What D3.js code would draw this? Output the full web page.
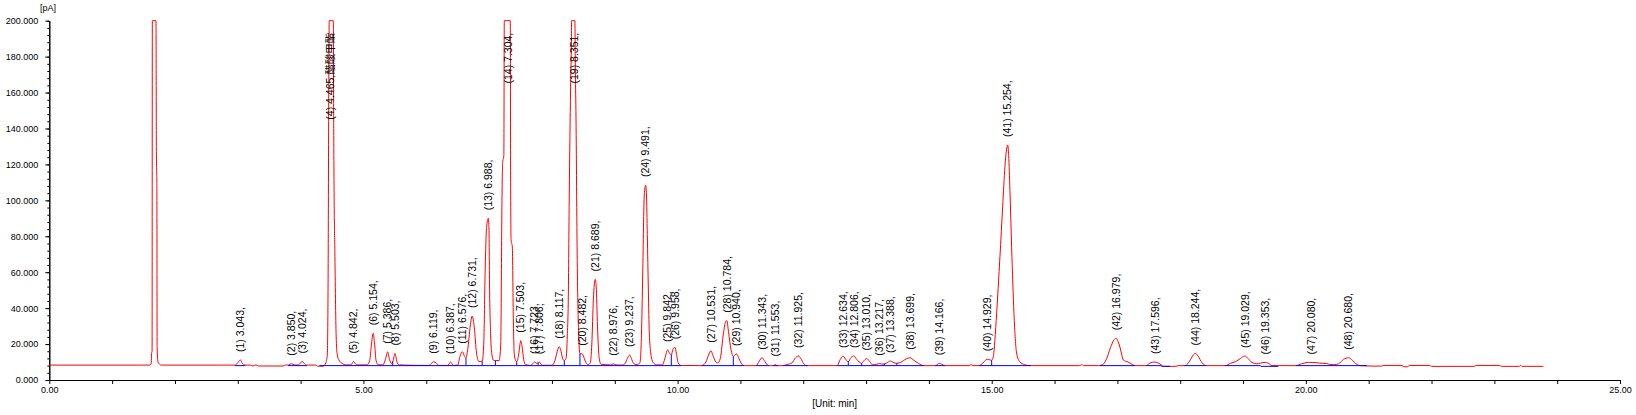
<!DOCTYPE html>
<html>
<head>
<meta charset="utf-8">
<script src="https://cdn.jsdelivr.net/npm/d3@7"></script>
<style>
	html, body { margin: 0; padding: 0; background: #fff; }
	#canvas { width: 1636px; height: 415px; }
	text { font-family: 'Liberation Sans', Arial, 'Noto Sans CJK SC', sans-serif; fill: #000; }
</style>
</head>
<body>
<div id="canvas"></div>
<script>
// signal trace: [time (min), signal (pA)]
const tracePoints = [
	[0.00, 8.3], [1.60, 8.3], [1.622, 9.0], [1.628, 15.0], [1.636, 16.0], [1.640, 200], [1.698, 200],
	[1.704, 130], [1.708, 117], [1.712, 110], [1.716, 18], [1.73, 10], [1.78, 8.3],
	[2.96, 8.3], [3.00, 9.6], [3.043, 11.1], [3.07, 9.4], [3.11, 8.3],
	[3.20, 8.3], [3.24, 7.8], [3.29, 8.4], [3.33, 7.8], [3.72, 7.8], [3.76, 8.3],
	[3.81, 8.4], [3.85, 9.1], [3.90, 8.4],
	[3.96, 8.3], [4.00, 9.6], [4.024, 10.3], [4.05, 9.5], [4.09, 8.3],
	[4.24, 8.3], [4.27, 7.7], [4.36, 7.7], [4.40, 9.5], [4.425, 14], [4.438, 60], [4.448, 160], [4.456, 200], [4.521, 200],
	[4.527, 140], [4.535, 95], [4.545, 72], [4.555, 45], [4.566, 24], [4.58, 15], [4.61, 11], [4.66, 9.3], [4.72, 8.4],
	[4.80, 8.4], [4.825, 9.5], [4.842, 10.3], [4.87, 9.1], [4.90, 8.4],
	[5.06, 8.4], [5.10, 11], [5.125, 19], [5.154, 26], [5.178, 20], [5.20, 11], [5.235, 8.5],
	[5.31, 8.4], [5.35, 11.5], [5.386, 15.7], [5.415, 11.5], [5.445, 9.2], [5.47, 10.5], [5.503, 14.8], [5.53, 10.5], [5.57, 8.4],
	[6.04, 8.1], [6.09, 9.5], [6.119, 10.2], [6.16, 9.4], [6.20, 8.1],
	[6.34, 8.1], [6.387, 10.0], [6.43, 8.1],
	[6.50, 8.3], [6.535, 13], [6.576, 15.7], [6.605, 13.5], [6.632, 12.3],
	[6.66, 17], [6.70, 30], [6.731, 35.6], [6.765, 29], [6.80, 15], [6.84, 10.2], [6.89, 10.5],
	[6.915, 20], [6.935, 57], [6.96, 85], [6.988, 90], [6.998, 84], [7.008, 50], [7.025, 25], [7.045, 14], [7.07, 11], [7.10, 10.8],
	[7.16, 10.8], [7.185, 20], [7.205, 100], [7.215, 121], [7.235, 125], [7.242, 200], [7.337, 200],
	[7.343, 110], [7.35, 78], [7.37, 74], [7.385, 36], [7.40, 15], [7.42, 11], [7.44, 10.2],
	[7.47, 14], [7.49, 19.5], [7.503, 21.9], [7.525, 18.5], [7.55, 11.5], [7.58, 8.6], [7.66, 8.1],
	[7.70, 9.3], [7.723, 10.0], [7.76, 9.3], [7.806, 9.9], [7.84, 8.2],
	[8.00, 8.2], [8.05, 11], [8.085, 16], [8.117, 18.5], [8.145, 16], [8.175, 11.5], [8.197, 10.9],
	[8.225, 12], [8.245, 25], [8.26, 44], [8.276, 103], [8.297, 162], [8.31, 190], [8.313, 200], [8.366, 200],
	[8.372, 175], [8.382, 150], [8.403, 66], [8.425, 26], [8.446, 14.5],
	[8.482, 14.6], [8.50, 13.5], [8.53, 10.5], [8.575, 8.6], [8.61, 9.5],
	[8.635, 20], [8.66, 45], [8.689, 56], [8.705, 52], [8.725, 30], [8.75, 13], [8.78, 8.8],
	[8.93, 8.4], [8.976, 9.0], [9.02, 8.4], [9.12, 8.3],
	[9.17, 9.5], [9.20, 12], [9.237, 13.9], [9.265, 12], [9.30, 9.2], [9.348, 8.6], [9.40, 9.5],
	[9.425, 25], [9.445, 59], [9.47, 103], [9.491, 108.5], [9.505, 103], [9.518, 81], [9.535, 50], [9.55, 26], [9.57, 16], [9.59, 11.5], [9.63, 9], [9.67, 8.4],
	[9.76, 8.4], [9.79, 11], [9.842, 16.7], [9.87, 15], [9.90, 13.9],
	[9.925, 17], [9.958, 18.2], [9.98, 15], [10.01, 9.5], [10.06, 8.1],
	[10.38, 8.0], [10.45, 10], [10.50, 14.5], [10.531, 16.3], [10.56, 14], [10.60, 10.5], [10.64, 9.5],
	[10.68, 12], [10.73, 26], [10.765, 32.5], [10.784, 33], [10.81, 27], [10.85, 17], [10.887, 13.1],
	[10.915, 14.0], [10.94, 14.5], [10.97, 12.5], [11.01, 9.5], [11.06, 8.0],
	[11.25, 8.0], [11.30, 10.5], [11.343, 12.4], [11.38, 10.8], [11.43, 8.4], [11.46, 8.0],
	[11.53, 8.0], [11.553, 8.6], [11.58, 8.0],
	[11.68, 8.0], [11.74, 8.6], [11.82, 9.5], [11.88, 12.5], [11.925, 13.4], [11.96, 12], [12.01, 9], [12.06, 8.0],
	[12.54, 8.0], [12.59, 11.5], [12.634, 13.4], [12.67, 11.8], [12.717, 10.2],
	[12.76, 12.5], [12.806, 13.4], [12.85, 11.5], [12.93, 9.3],
	[12.96, 10.5], [13.01, 11.9], [13.06, 10.2], [13.10, 8.5], [13.17, 8.8], [13.217, 9.1], [13.27, 8.8],
	[13.33, 9.5], [13.388, 10.6], [13.43, 9.8], [13.49, 9.3],
	[13.56, 10], [13.64, 11.8], [13.699, 12.4], [13.76, 11], [13.83, 9.3], [13.92, 8.0],
	[14.10, 8.0], [14.14, 8.8], [14.166, 9.3], [14.20, 8.8], [14.26, 8.0],
	[14.64, 8.0], [14.67, 8.6], [14.70, 8.0], [14.80, 8.0], [14.86, 9.5], [14.929, 11.6], [14.96, 11.3], [14.999, 11.0],
	[15.025, 12.9], [15.05, 22], [15.078, 37], [15.131, 68.6], [15.174, 96.5], [15.21, 118.7], [15.235, 128], [15.254, 130.8],
	[15.27, 125], [15.29, 105.7], [15.317, 74], [15.354, 37], [15.396, 15], [15.449, 10], [15.52, 8.6], [15.61, 8.0],
	[16.40, 8.0], [16.43, 8.5], [16.46, 8.0],
	[16.70, 8.0], [16.78, 9.0], [16.83, 12], [16.89, 18], [16.94, 22], [16.979, 23.2], [17.01, 21.5], [17.04, 18.4], [17.07, 14],
	[17.094, 11.1], [17.17, 10], [17.22, 9], [17.28, 8.0],
	[17.46, 8.0], [17.52, 9.5], [17.596, 10.0], [17.66, 9.3], [17.70, 8.4], [17.74, 7.6], [17.92, 7.6], [17.98, 8.0],
	[18.08, 8.0], [18.15, 10.5], [18.21, 14], [18.244, 14.8], [18.28, 13.5], [18.35, 9.5], [18.42, 8.0],
	[18.72, 8.0], [18.80, 9.3], [18.88, 10.2], [18.96, 12], [19.029, 13.4], [19.08, 12], [19.14, 9.8], [19.22, 9.0],
	[19.28, 9.4], [19.353, 9.8], [19.40, 9.4], [19.46, 8.0],
	[19.84, 8.0], [19.93, 9.0], [20.04, 9.8], [20.10, 9.8], [20.22, 9.4], [20.33, 9.2], [20.38, 8.6], [20.45, 8.5],
	[20.52, 9.0], [20.60, 11.5], [20.68, 12.4], [20.74, 11], [20.80, 9], [20.87, 8.0],
	[21.20, 7.7], [21.23, 8.1], [21.53, 8.1], [21.56, 7.4], [21.62, 7.4], [21.65, 8.1], [21.97, 8.1], [22.0, 7.6],
	[22.68, 7.6], [22.71, 8.1], [23.08, 8.1], [23.11, 7.6], [23.40, 7.6], [23.42, 8.3], [23.44, 7.6], [23.78, 7.6],
];

// integrated peaks
const peakTimes = [
	'3.043', '3.850', '4.024', '4.465', '4.842', '5.154', '5.386', '5.503', '6.119', '6.387',
	'6.576', '6.731', '6.988', '7.304', '7.503', '7.723', '7.806', '8.117', '8.351', '8.482',
	'8.689', '8.976', '9.237', '9.491', '9.842', '9.958', '10.531', '10.784', '10.940', '11.343',
	'11.553', '11.925', '12.634', '12.806', '13.010', '13.217', '13.388', '13.699', '14.166', '14.929',
	'15.254', '16.979', '17.596', '18.244', '19.029', '19.353', '20.080', '20.680',
];
const peakNames = { 4: '醋酸甲酯' };

// baseline segments [start, end, startValue, endValue] and valley drop lines
const baselineRanges = [
	[2.95, 3.12, 8.0, 8.0], [3.80, 4.10, 8.0, 8.0], [4.30, 10.06, 8.0, 8.0], [10.38, 11.06, 8.0, 8.0],
	[11.25, 11.46, 8.0, 8.0], [11.52, 11.60, 8.0, 8.0], [11.68, 12.07, 8.0, 8.0], [12.54, 13.92, 8.0, 8.0],
	[14.10, 14.26, 8.0, 8.0], [14.80, 15.62, 8.0, 8.0], [16.72, 17.28, 8.0, 8.0], [17.46, 17.70, 8.0, 8.0],
	[17.70, 17.84, 7.6, 7.6], [18.07, 18.42, 8.0, 8.0], [18.71, 19.28, 8.0, 8.0], [19.28, 19.56, 7.6, 7.6],
	[19.84, 20.97, 8.0, 8.0],
];
const dropTimes = [5.466, 6.632, 6.89, 7.10, 7.44, 7.78, 8.197, 8.446, 9.348, 9.90, 10.887, 12.717, 12.93, 13.29, 13.49, 14.999];

const xTicks = d3.range(0, 26, 1);
const yMajorTicks = d3.range(0, 201, 20);
const yMinorTicks = d3.range(0, 201, 4);

const chart = {
	dims: { width: 1636, height: 415 },
	margins: { left: 49.3, right: 16, top: 20.7, bottom: 35 },
};

drawChart();

function drawChart() {
	const { width, height } = chart.dims;
	const m = chart.margins;

	const x = d3.scaleLinear().domain([0, 25]).range([m.left, width - m.right]);
	const y = d3.scaleLinear().domain([0, 200]).range([height - m.bottom, m.top]);

	const svg = d3.select('#canvas').append('svg').attr('width', width).attr('height', height);

	// axes
	const xAxis = svg.append('g')
		.attr('transform', `translate(0,${y(0)})`)
		.call(d3.axisBottom(x).tickValues(xTicks).tickSize(4).tickSizeOuter(0).tickPadding(3)
			.tickFormat(d => (d % 5 === 0 ? d3.format('.2f')(d) : '')));

	svg.append('g')
		.attr('transform', `translate(${x(0)},0)`)
		.call(d3.axisLeft(y).tickValues(yMinorTicks).tickSize(2).tickSizeOuter(0).tickFormat(''));

	const yAxis = svg.append('g')
		.attr('transform', `translate(${x(0)},0)`)
		.call(d3.axisLeft(y).tickValues(yMajorTicks).tickSize(4).tickSizeOuter(0).tickPadding(7)
			.tickFormat(d3.format('.3f')));

	svg.selectAll('.domain, .tick line').attr('stroke', '#000');
	[xAxis, yAxis].forEach(ax => ax.selectAll('text')
		.attr('font-size', 9)
		.attr('font-family', "'Liberation Sans', Arial, sans-serif")
		.attr('fill', '#000'));

	svg.append('text').attr('x', 40).attr('y', 10.5).attr('font-size', 9).text('[pA]');
	svg.append('text')
		.attr('x', (x(0) + x(25)) / 2).attr('y', 407)
		.attr('text-anchor', 'middle').attr('font-size', 10)
		.text('[Unit: min]');

	// signal trace
	const line = d3.line().x(d => x(d[0])).y(d => y(d[1])).curve(d3.curveMonotoneX);
	svg.append('path')
		.datum(tracePoints)
		.attr('fill', 'none')
		.attr('stroke', '#ff0000')
		.attr('stroke-width', 1)
		.attr('d', line);

	// integration baselines and valley drop lines
	const bisect = d3.bisector(d => d[0]).left;
	const signalAt = t => {
		const i = Math.max(1, Math.min(tracePoints.length - 1, bisect(tracePoints, t)));
		const a = tracePoints[i - 1];
		const b = tracePoints[i];
		return d3.scaleLinear().domain([a[0], b[0]]).range([a[1], b[1]])(t);
	};

	svg.append('g').selectAll('line.base')
		.data(baselineRanges)
		.join('line')
		.attr('class', 'base')
		.attr('x1', d => x(d[0]))
		.attr('x2', d => x(d[1]))
		.attr('y1', d => y(d[2]))
		.attr('y2', d => y(d[3]))
		.attr('stroke', '#0000ff')
		.attr('stroke-width', 1);

	svg.append('g').selectAll('line.drop')
		.data(dropTimes)
		.join('line')
		.attr('class', 'drop')
		.attr('x1', d => x(d))
		.attr('x2', d => x(d))
		.attr('y1', y(8.0))
		.attr('y2', d => y(signalAt(d)))
		.attr('stroke', '#0000ff')
		.attr('stroke-width', 1);

	// peak labels, placed just above each apex (clipped peaks hang from the top)
	const labels = peakTimes.map((t, i) => {
		const rt = +t;
		const near = tracePoints.filter(p => Math.abs(p[0] - rt) <= 0.03).map(p => p[1]);
		const apex = d3.max([signalAt(rt), ...near]);
		const name = peakNames[i + 1] || '';
		return { rt, apex, text: `(${i + 1}) ${t},${name}` };
	});

	svg.append('g').selectAll('text')
		.data(labels)
		.join('text')
		.attr('transform', d => {
			const ty = d.apex >= 200 ? y(200) + 12 : y(d.apex) - 8;
			return `translate(${x(d.rt)},${ty}) rotate(-90)`;
		})
		.attr('text-anchor', d => (d.apex >= 200 ? 'end' : 'start'))
		.attr('dy', '0.35em')
		.attr('font-size', 10.5)
		.text(d => d.text);
}
</script>
</body>
</html>
